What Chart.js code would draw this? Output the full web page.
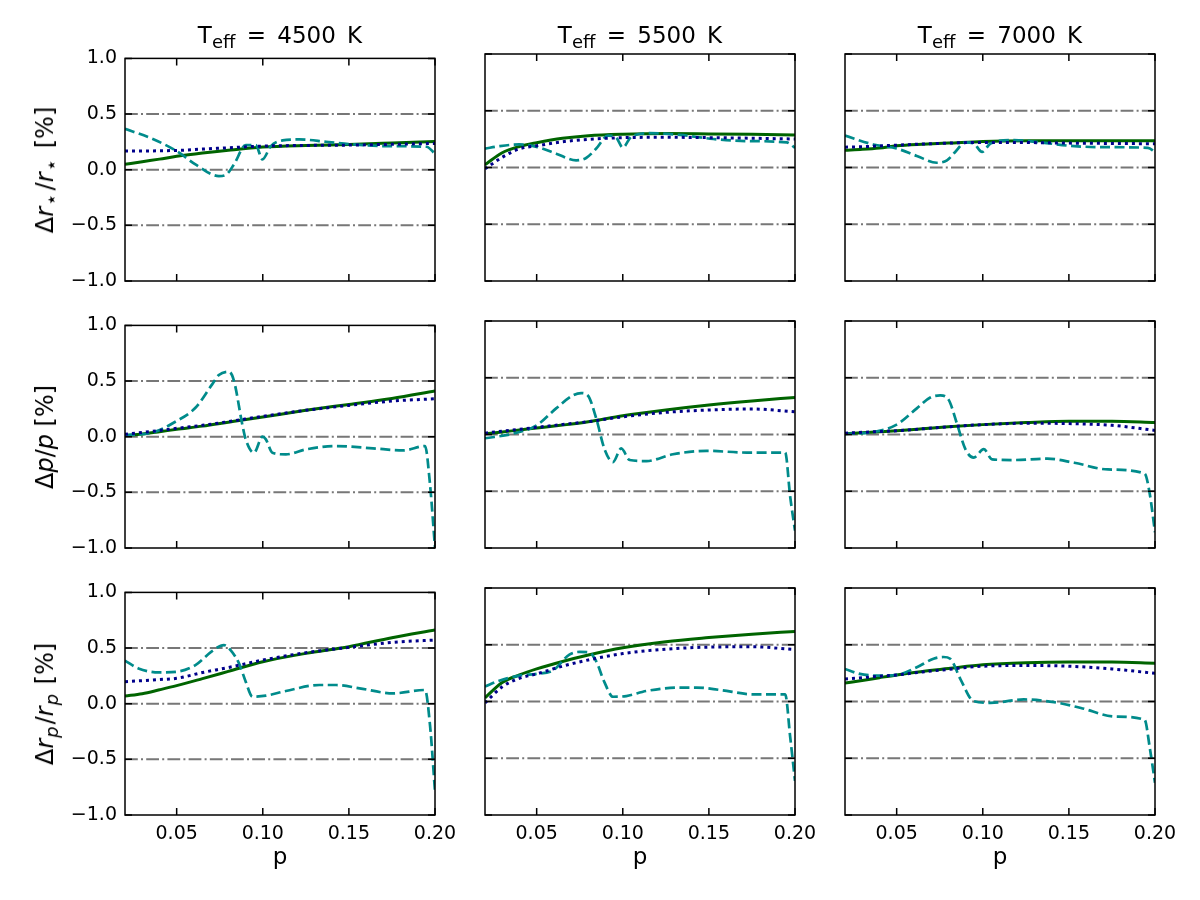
<!DOCTYPE html>
<html>
<head>
<meta charset="utf-8">
<script src="https://cdn.jsdelivr.net/npm/chart.js@4.4.1/dist/chart.umd.min.js"></script>
<style>
  body { margin: 0; background: #fff; width: 1200px; height: 900px; position: relative; overflow: hidden;
         font-family: "DejaVu Sans", sans-serif; color: #000; }
  canvas { position: absolute; }
  .title, .xlabel { position: absolute; text-align: center; font-size: 23px; line-height: 26px; white-space: nowrap; }
  .title { word-spacing: 4px; }
  .title sub { font-size: 18px; vertical-align: -5px; line-height: 0; }
  .ylabel { position: absolute; font-size: 24px; white-space: nowrap; transform: translate(-50%, -50%) rotate(-90deg); }
  .ylabel sub { font-size: 18px; vertical-align: -5px; line-height: 0; margin-left: 1px; margin-right: 2px; }
  .ylabel sub.star { font-size: 20px; margin-left: 1px; margin-right: 3px; }
  i { font-style: oblique; }
</style>
</head>
<body>
<script>
// ---- data ----
const temps = [4500, 5500, 7000];
const yTicks = [-1.0, -0.5, 0.0, 0.5, 1.0];
const xTicks = [0.05, 0.10, 0.15, 0.20];
const refLevels = [0.5, 0.0, -0.5];

// smooth curves (solid green, dotted blue) share one p grid
const pGrid = [0.02, 0.03, 0.04, 0.05, 0.065, 0.08, 0.10, 0.125, 0.15, 0.175, 0.20];

// row 1: delta r_star / r_star
const rsSolid4500  = [0.048, 0.072, 0.095, 0.120, 0.150, 0.175, 0.203, 0.218, 0.227, 0.240, 0.254];
const rsDotted4500 = [0.167, 0.168, 0.170, 0.173, 0.185, 0.197, 0.212, 0.218, 0.221, 0.228, 0.236];
const rsDashedP4500 = [0.02, 0.0356, 0.05, 0.0609, 0.0745, 0.0784, 0.0833, 0.0901, 0.0959, 0.0998, 0.1047, 0.1115, 0.1212, 0.1368, 0.1523, 0.1718, 0.1951, 0.20];
const rsDashed4500  = [0.367, 0.280, 0.167, 0.048, -0.057, -0.048, 0.048, 0.221, 0.221, 0.093, 0.212, 0.263, 0.272, 0.251, 0.227, 0.212, 0.206, 0.143];

const rsSolid5500  = [0.024, 0.130, 0.185, 0.218, 0.257, 0.280, 0.293, 0.299, 0.296, 0.292, 0.287];
const rsDotted5500 = [-0.012, 0.090, 0.165, 0.191, 0.227, 0.248, 0.263, 0.266, 0.263, 0.258, 0.251];
const rsDashedP5500 = [0.02, 0.0283, 0.0399, 0.05, 0.0613, 0.0729, 0.0787, 0.0846, 0.0914, 0.0962, 0.10, 0.105, 0.1156, 0.1331, 0.1525, 0.1719, 0.1952, 0.20];
const rsDashed5500  = [0.167, 0.188, 0.203, 0.182, 0.122, 0.063, 0.084, 0.167, 0.281, 0.263, 0.176, 0.272, 0.302, 0.287, 0.251, 0.233, 0.221, 0.173];

const rsSolid7000  = [0.152, 0.160, 0.172, 0.191, 0.205, 0.215, 0.230, 0.236, 0.236, 0.236, 0.236];
const rsDotted7000 = [0.179, 0.183, 0.190, 0.197, 0.207, 0.215, 0.221, 0.220, 0.215, 0.212, 0.209];
const rsDashedP7000 = [0.02, 0.0364, 0.05, 0.0617, 0.0733, 0.0792, 0.084, 0.0899, 0.0947, 0.0996, 0.1045, 0.1181, 0.1337, 0.1531, 0.1726, 0.1959, 0.20];
const rsDashed7000  = [0.281, 0.203, 0.167, 0.102, 0.042, 0.063, 0.137, 0.221, 0.212, 0.137, 0.212, 0.242, 0.221, 0.188, 0.179, 0.173, 0.137];

// row 2: delta p / p
const pSolid4500  = [0.009, 0.025, 0.045, 0.066, 0.095, 0.130, 0.177, 0.237, 0.290, 0.344, 0.410];
const pDotted4500 = [0.021, 0.038, 0.056, 0.075, 0.102, 0.135, 0.183, 0.237, 0.281, 0.320, 0.341];
const pDashedP4500 = [0.02, 0.0356, 0.05, 0.0609, 0.0706, 0.0745, 0.0804, 0.0833, 0.0881, 0.0901, 0.0949, 0.0998, 0.1018, 0.1056, 0.1134, 0.1251, 0.1426, 0.164, 0.1815, 0.1942, 0.1971, 0.20];
const pDashed4500  = [0.015, 0.036, 0.141, 0.260, 0.470, 0.554, 0.584, 0.500, 0.110, -0.024, -0.144, 0.000, -0.024, -0.144, -0.159, -0.114, -0.084, -0.105, -0.123, -0.084, -0.428, -0.997];

const pSolid5500  = [0.006, 0.022, 0.040, 0.057, 0.083, 0.113, 0.165, 0.216, 0.260, 0.296, 0.326];
const pDotted5500 = [0.012, 0.029, 0.046, 0.063, 0.088, 0.113, 0.156, 0.195, 0.216, 0.225, 0.200];
const pDashedP5500 = [0.02, 0.036, 0.05, 0.0613, 0.071, 0.0758, 0.0797, 0.0846, 0.0894, 0.0943, 0.0991, 0.104, 0.1137, 0.1292, 0.1486, 0.1719, 0.1943, 0.1972, 0.20];
const pDashed5500  = [-0.033, 0.006, 0.081, 0.230, 0.344, 0.365, 0.344, 0.141, -0.129, -0.243, -0.123, -0.225, -0.234, -0.174, -0.144, -0.159, -0.159, -0.548, -0.847];

const pSolid7000  = [0.006, 0.015, 0.024, 0.033, 0.050, 0.068, 0.087, 0.105, 0.117, 0.117, 0.105];
const pDotted7000 = [0.012, 0.019, 0.026, 0.033, 0.050, 0.068, 0.087, 0.099, 0.096, 0.081, 0.036];
const pDashedP7000 = [0.02, 0.0364, 0.05, 0.0617, 0.0695, 0.0753, 0.0802, 0.085, 0.0899, 0.0947, 0.1006, 0.1054, 0.1181, 0.1375, 0.1531, 0.1726, 0.194, 0.1969, 0.20];
const pDashed7000  = [0.006, 0.021, 0.087, 0.230, 0.326, 0.344, 0.305, 0.096, -0.129, -0.204, -0.129, -0.219, -0.225, -0.213, -0.249, -0.308, -0.344, -0.518, -0.862];

// row 3: delta r_p / r_p
const rpSolid4500  = [0.069, 0.090, 0.125, 0.162, 0.225, 0.290, 0.377, 0.452, 0.512, 0.593, 0.662];
const rpDotted4500 = [0.198, 0.207, 0.217, 0.228, 0.280, 0.325, 0.392, 0.458, 0.506, 0.551, 0.572];
const rpDashedP4500 = [0.02, 0.0278, 0.0395, 0.05, 0.0609, 0.0706, 0.0774, 0.0813, 0.0862, 0.0901, 0.094, 0.1018, 0.1134, 0.1329, 0.1426, 0.1562, 0.1757, 0.1942, 0.1971, 0.20];
const rpDashed4500  = [0.386, 0.317, 0.281, 0.287, 0.347, 0.473, 0.527, 0.482, 0.362, 0.198, 0.063, 0.072, 0.114, 0.168, 0.168, 0.138, 0.093, 0.123, -0.192, -0.790];

const rpSolid5500  = [0.033, 0.167, 0.234, 0.287, 0.353, 0.410, 0.473, 0.527, 0.563, 0.593, 0.617];
const rpDotted5500 = [-0.012, 0.130, 0.204, 0.243, 0.311, 0.366, 0.422, 0.461, 0.479, 0.482, 0.458];
const rpDashedP5500 = [0.02, 0.0283, 0.0399, 0.05, 0.0593, 0.069, 0.0749, 0.0807, 0.0846, 0.0894, 0.0943, 0.102, 0.1137, 0.1331, 0.1428, 0.1564, 0.1758, 0.1943, 0.1972, 0.20];
const rpDashed5500  = [0.132, 0.183, 0.228, 0.243, 0.272, 0.413, 0.437, 0.431, 0.353, 0.168, 0.042, 0.048, 0.093, 0.123, 0.123, 0.102, 0.063, 0.063, -0.311, -0.700];

const rpSolid7000  = [0.162, 0.185, 0.210, 0.234, 0.265, 0.290, 0.323, 0.341, 0.347, 0.347, 0.338];
const rpDotted7000 = [0.198, 0.210, 0.222, 0.234, 0.260, 0.283, 0.311, 0.317, 0.311, 0.287, 0.248];
const rpDashedP7000 = [0.02, 0.0286, 0.0403, 0.05, 0.0617, 0.0714, 0.0772, 0.0811, 0.087, 0.0947, 0.1045, 0.1239, 0.1414, 0.157, 0.1765, 0.194, 0.1969, 0.20];
const rpDashed7000  = [0.287, 0.243, 0.228, 0.234, 0.302, 0.377, 0.392, 0.377, 0.198, 0.003, -0.012, 0.018, -0.006, -0.057, -0.132, -0.162, -0.401, -0.716];

// ---- layout ----
const colLeft = [125, 485, 845];
const rowTop = [58, 325, 592];
const PW = 310, PH = 223;
const AXW = 80, AXH = 45, PADT = 15, PADR = 30;
const TOPFIX = 4; // chart.js leaves a few extra px above the area

const rows = [
  { label: 'Δ<i>r</i><sub class="star">⋆</sub>/<i>r</i><sub class="star">⋆</sub> [%]',
    series: [[rsSolid4500, rsDotted4500, rsDashedP4500, rsDashed4500],
             [rsSolid5500, rsDotted5500, rsDashedP5500, rsDashed5500],
             [rsSolid7000, rsDotted7000, rsDashedP7000, rsDashed7000]] },
  { label: 'Δ<i>p</i>/<i>p</i> [%]',
    series: [[pSolid4500, pDotted4500, pDashedP4500, pDashed4500],
             [pSolid5500, pDotted5500, pDashedP5500, pDashed5500],
             [pSolid7000, pDotted7000, pDashedP7000, pDashed7000]] },
  { label: 'Δ<i>r</i><sub><i>p</i></sub>/<i>r</i><sub><i>p</i></sub> [%]',
    series: [[rpSolid4500, rpDotted4500, rpDashedP4500, rpDashed4500],
             [rpSolid5500, rpDotted5500, rpDashedP5500, rpDashed5500],
             [rpSolid7000, rpDotted7000, rpDashedP7000, rpDashed7000]] },
];

const pts = (xs, ys) => xs.map((x, i) => ({ x: x, y: ys[i] }));

// frame + inward ticks on all four sides, like the matplotlib original
const framePlugin = {
  id: 'frame',
  afterDraw(chart) {
    const { ctx, chartArea: a, scales } = chart;
    const x = scales.x, y = scales.y;
    ctx.save();
    ctx.strokeStyle = '#000';
    ctx.lineWidth = 1.5;
    ctx.beginPath();
    x.ticks.forEach(t => {
      const px = x.getPixelForValue(t.value);
      ctx.moveTo(px, a.bottom); ctx.lineTo(px, a.bottom - 7);
      ctx.moveTo(px, a.top); ctx.lineTo(px, a.top + 7);
    });
    y.ticks.forEach(t => {
      const py = y.getPixelForValue(t.value);
      ctx.moveTo(a.left, py); ctx.lineTo(a.left + 7, py);
      ctx.moveTo(a.right, py); ctx.lineTo(a.right - 7, py);
    });
    ctx.stroke();
    ctx.strokeRect(a.left, a.top, a.right - a.left, a.bottom - a.top);
    ctx.restore();
  }
};

const tickFont = { family: 'DejaVu Sans', size: 19 };

rows.forEach((row, r) => {
  row.series.forEach((s, c) => {
    const cv = document.createElement('canvas');
    cv.width = AXW + PW + PADR;
    cv.height = PADT + TOPFIX + PH + AXH;
    cv.style.left = (colLeft[c] - AXW) + 'px';
    cv.style.top = (rowTop[r] - PADT - TOPFIX) + 'px';
    document.body.appendChild(cv);

    const datasets = [
      { data: pts(pGrid, s[1]), borderColor: '#00008b', borderWidth: 3, borderDash: [3, 4] },
      { data: pts(s[2], s[3]), borderColor: '#008b8b', borderWidth: 2.7, borderDash: [10, 4.5] },
      { data: pts(pGrid, s[0]), borderColor: '#006400', borderWidth: 3 },
    ];
    refLevels.forEach(v => datasets.push({
      data: [{ x: 0.02, y: v }, { x: 0.20, y: v }],
      borderColor: '#777777', borderWidth: 2, borderDash: [12.8, 3.2, 2, 3.2]
    }));

    new Chart(cv, {
      type: 'line',
      data: { datasets: datasets },
      options: {
        responsive: false,
        animation: false,
        devicePixelRatio: 1,
        layout: { autoPadding: false, padding: { top: PADT, right: PADR, left: 0, bottom: 0 } },
        elements: {
          point: { radius: 0 },
          line: { cubicInterpolationMode: 'monotone', fill: false, borderCapStyle: 'butt' }
        },
        plugins: { legend: { display: false }, tooltip: { enabled: false } },
        scales: {
          x: {
            type: 'linear', min: 0.02, max: 0.20,
            afterBuildTicks: sc => { sc.ticks = xTicks.map(v => ({ value: v })); },
            afterFit: sc => { sc.height = AXH; },
            grid: { display: false, drawTicks: false },
            border: { display: false },
            ticks: {
              display: r === 2, font: tickFont, color: '#000', padding: 8,
              maxRotation: 0, autoSkip: false,
              callback: v => v.toFixed(2)
            }
          },
          y: {
            type: 'linear', min: -1, max: 1,
            afterBuildTicks: sc => { sc.ticks = yTicks.map(v => ({ value: v })); },
            afterFit: sc => { sc.width = AXW; },
            grid: { display: false, drawTicks: false },
            border: { display: false },
            ticks: {
              display: c === 0, font: tickFont, color: '#000', padding: 8,
              callback: v => (v < 0 ? '\u2212' : '') + Math.abs(v).toFixed(1)
            }
          }
        }
      },
      plugins: [framePlugin]
    });
  });

  const yl = document.createElement('div');
  yl.className = 'ylabel';
  yl.innerHTML = row.label;
  yl.style.left = '45px';
  yl.style.top = (rowTop[r] + PH / 2) + 'px';
  document.body.appendChild(yl);
});

temps.forEach((t, c) => {
  const d = document.createElement('div');
  d.className = 'title';
  d.innerHTML = 'T<sub>eff</sub> = ' + t + ' K';
  d.style.left = colLeft[c] + 'px';
  d.style.width = PW + 'px';
  d.style.top = '22px';
  document.body.appendChild(d);

  const xl = document.createElement('div');
  xl.className = 'xlabel';
  xl.textContent = 'p';
  xl.style.left = colLeft[c] + 'px';
  xl.style.width = PW + 'px';
  xl.style.top = '843px';
  document.body.appendChild(xl);
});
</script>
</body>
</html>
